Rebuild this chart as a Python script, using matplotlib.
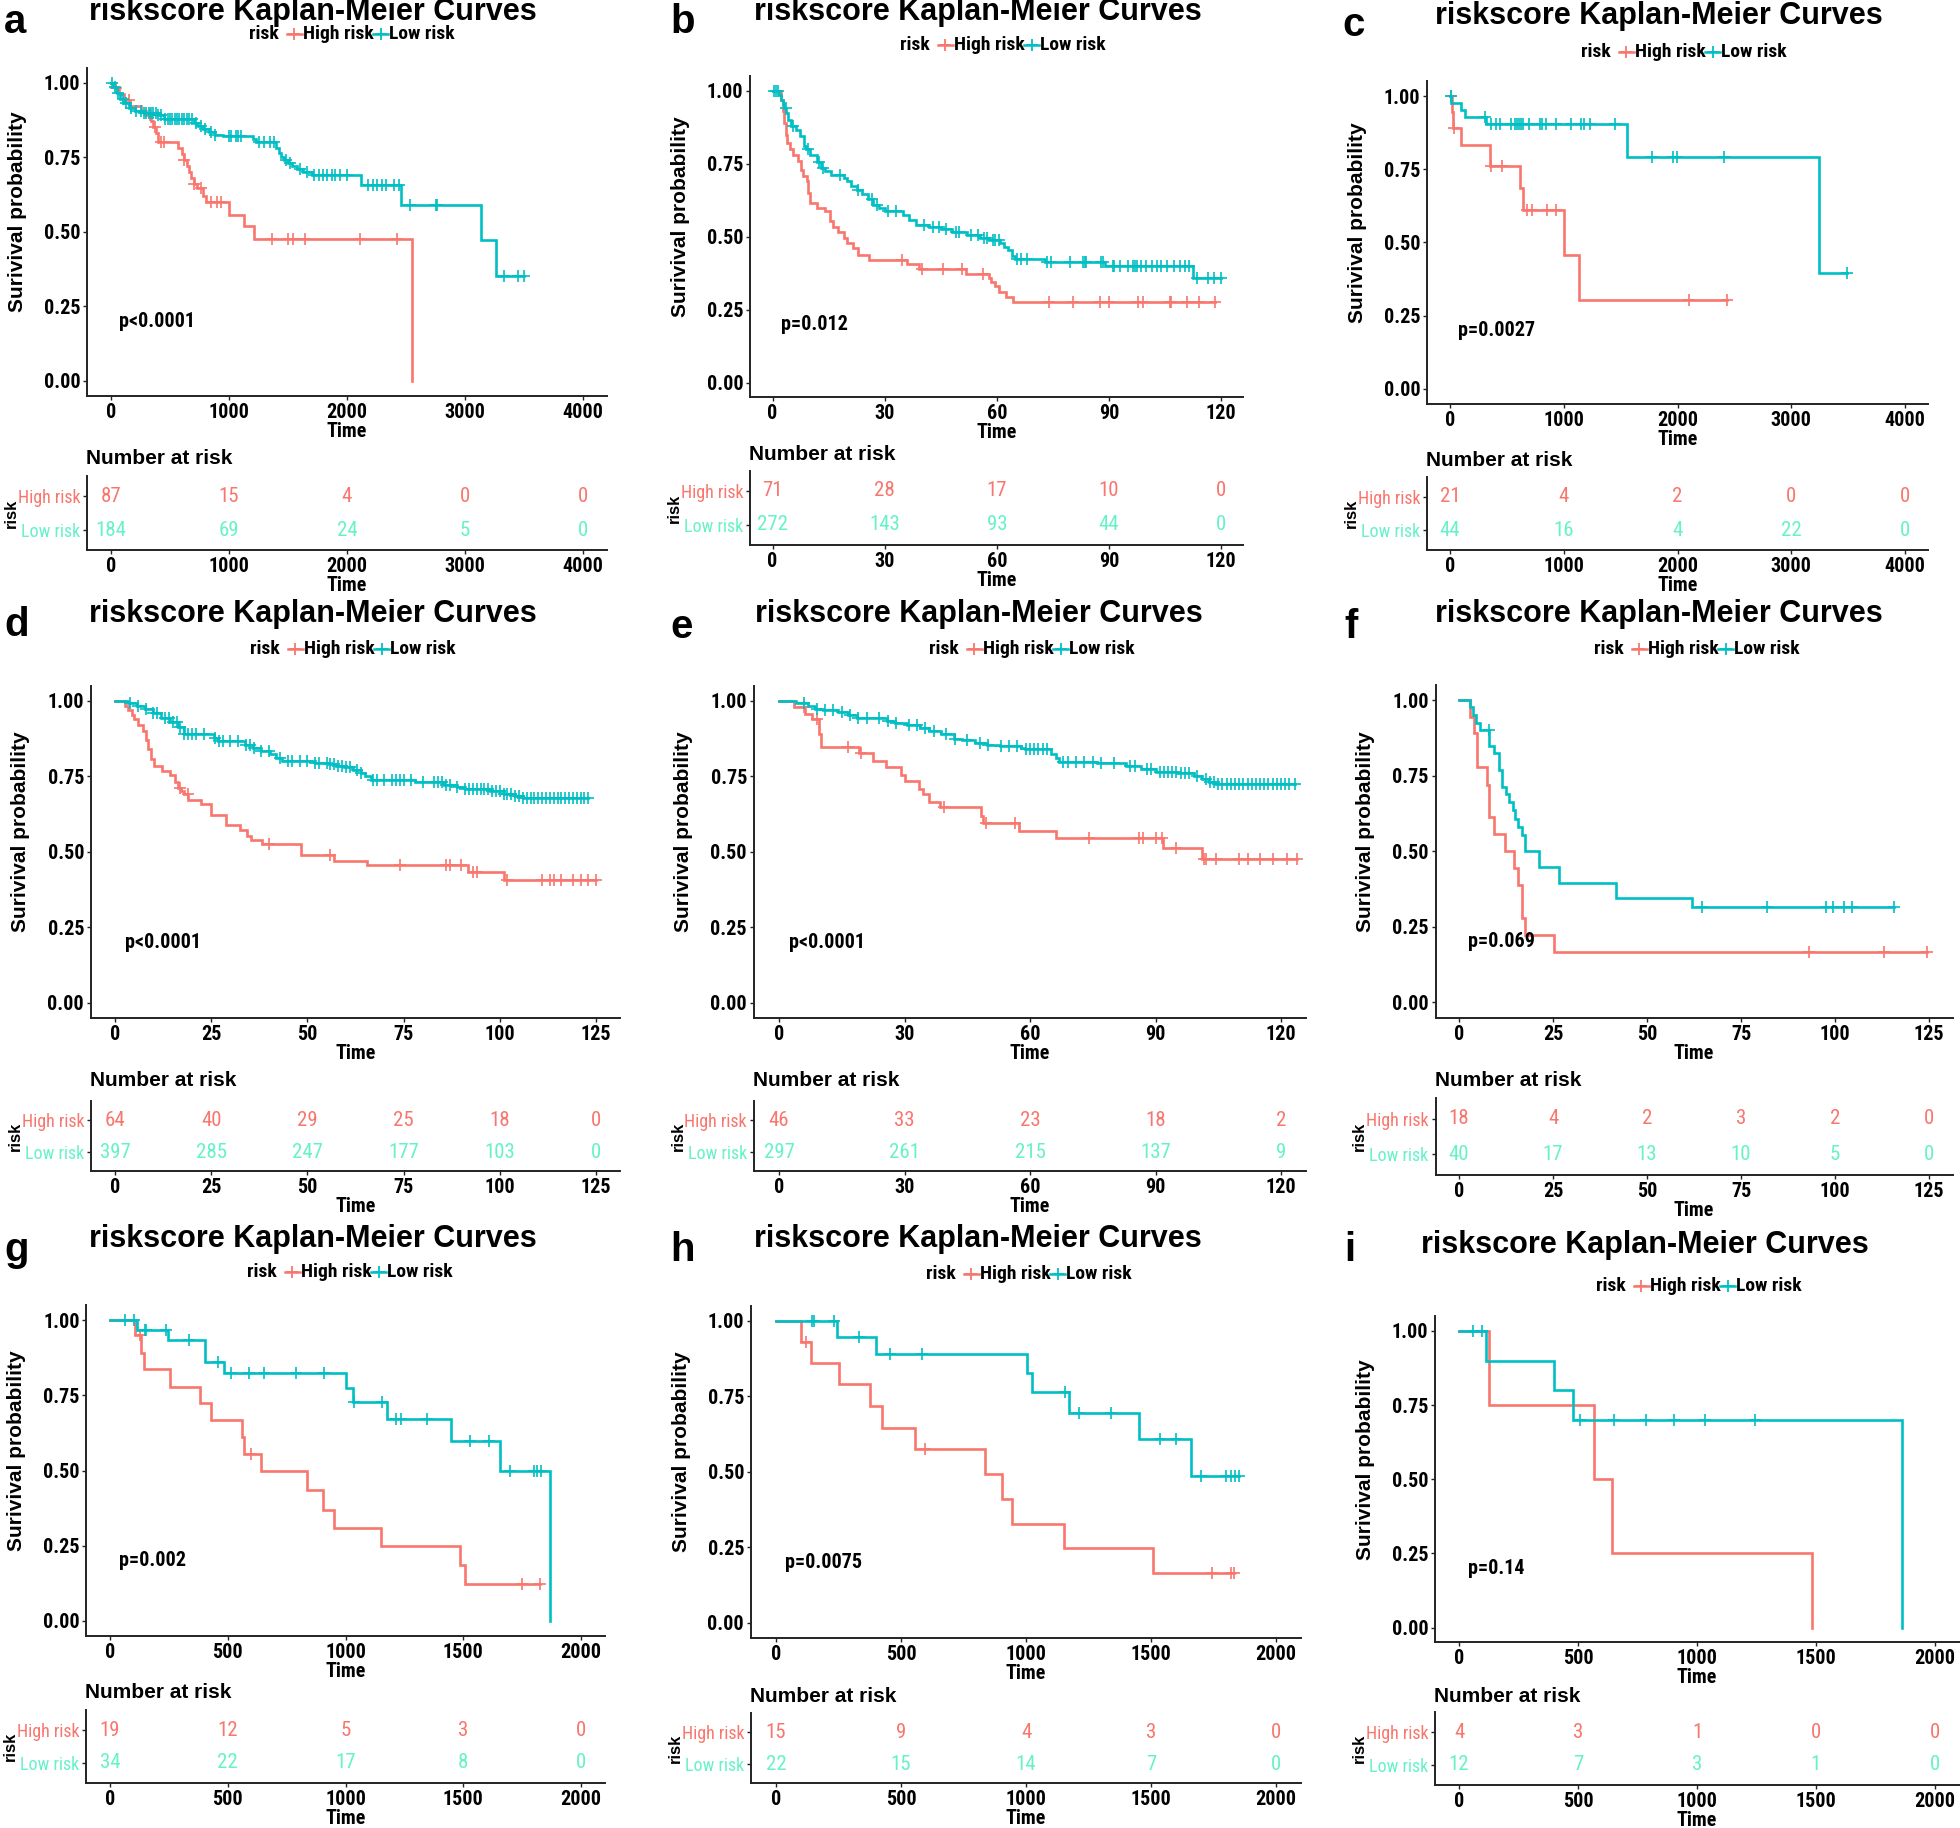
import numpy as np
import matplotlib
matplotlib.use('Agg')
import matplotlib.pyplot as plt
from matplotlib import font_manager as fm
from matplotlib.font_manager import FontProperties
from matplotlib.lines import Line2D

W, H = 1960, 1828
WIDE = 'Liberation Sans'
plt.rcParams['font.family'] = [WIDE, 'DejaVu Sans']

RED = '#F8766D'
CYAN = '#00BFC4'
MINT = '#66F2C8'

TITLE = 'riskscore Kaplan-Meier Curves'
YLABEL = 'Surivival probability'

# ---------------- data ----------------
# panel a
A_TICKS = [0, 1000, 2000, 3000, 4000]
A_HI_T = [30, 70, 110, 160, 250, 300, 340, 360, 380, 400, 570, 600, 620, 640, 660, 680, 700, 725, 780, 805, 1000, 1125, 1213, 2553]
A_HI_S = [0.98, 0.96, 0.94, 0.92, 0.905, 0.89, 0.87, 0.85, 0.83, 0.80, 0.78, 0.76, 0.74, 0.72, 0.70, 0.68, 0.66, 0.645, 0.62, 0.60, 0.555, 0.52, 0.475, 0.0]
A_HI_C = [40, 150, 330, 370, 420, 450, 620, 700, 760, 850, 900, 930, 1365, 1500, 1540, 1640, 2110, 2420]
A_LO_T = [20, 50, 80, 110, 150, 200, 280, 400, 450, 700, 740, 780, 830, 880, 950, 1200, 1230, 1400, 1420, 1440, 1470, 1500, 1530, 1580, 1630, 1700, 2117, 2461, 3135, 3262]
A_LO_S = [0.985, 0.965, 0.945, 0.93, 0.915, 0.905, 0.898, 0.89, 0.878, 0.865, 0.855, 0.845, 0.835, 0.825, 0.82, 0.81, 0.80, 0.78, 0.765, 0.75, 0.74, 0.73, 0.72, 0.71, 0.70, 0.69, 0.655, 0.59, 0.472, 0.352]
A_LO_C = [10, 30, 60, 100, 130, 170, 210, 250, 280, 300, 320, 340, 360, 380, 400, 420, 460, 480, 500, 520, 540, 560, 580, 600, 620, 640, 660, 690, 720, 760, 800, 850, 880, 1000, 1020, 1060, 1080, 1100, 1250, 1300, 1350, 1380, 1480, 1520, 1600, 1660, 1720, 1760, 1800, 1830, 1870, 1900, 1940, 2000, 2180, 2220, 2250, 2300, 2330, 2400, 2440, 2530, 2750, 2760, 3330, 3450, 3500]
A_RISK_HI = [87, 15, 4, 0, 0]
A_RISK_LO = [184, 69, 24, 5, 0]
A_P = 'p<0.0001'

# panel b
B_TICKS = [0, 30, 60, 90, 120]
B_HI_T = [2.2, 2.8, 3.2, 3.6, 4.0, 4.8, 5.6, 6.7, 7.6, 8.1, 9.2, 9.6, 9.9, 11.8, 14.0, 15.5, 16.3, 17.4, 19.0, 20.0, 21.5, 23.0, 25.8, 36.0, 39.3, 51.7, 57.9, 58.4, 59.6, 60.7, 62.4, 64.3]
B_HI_S = [0.97, 0.93, 0.89, 0.85, 0.82, 0.80, 0.78, 0.76, 0.73, 0.71, 0.69, 0.65, 0.615, 0.60, 0.59, 0.555, 0.535, 0.515, 0.497, 0.48, 0.463, 0.437, 0.42, 0.405, 0.39, 0.373, 0.36, 0.345, 0.33, 0.31, 0.293, 0.275]
B_HI_C = [34.6, 40.0, 45.7, 50.6, 56.2, 74, 80.3, 87.6, 89.9, 97.8, 99, 106.4, 106.7, 111, 114, 118.5]
B_LO_T = [1.7, 2.2, 2.7, 3.2, 3.7, 4.2, 5.0, 6.2, 7.3, 8.4, 9.0, 10.1, 11.8, 12.9, 14.0, 15.7, 19.1, 20.0, 21.0, 22.5, 24.0, 25.5, 27.0, 28.5, 30.0, 35.0, 36.5, 38.5, 42.0, 45.0, 48.0, 52.0, 55.5, 58.0, 61.0, 62.0, 63.0, 64.0, 65.0, 72.8, 89.0, 112.5]
B_LO_S = [0.985, 0.97, 0.955, 0.94, 0.925, 0.90, 0.88, 0.865, 0.845, 0.81, 0.80, 0.78, 0.755, 0.735, 0.725, 0.713, 0.70, 0.69, 0.675, 0.66, 0.645, 0.63, 0.61, 0.60, 0.588, 0.575, 0.556, 0.542, 0.535, 0.525, 0.515, 0.506, 0.496, 0.488, 0.478, 0.466, 0.455, 0.435, 0.424, 0.413, 0.40, 0.357]
B_LO_C = [0.5, 1.0, 1.5, 3.5, 5.5, 9.5, 12.5, 13.5, 18.0, 23.0, 26.5, 28.0, 31.0, 33.0, 40.5, 43.0, 44.5, 46.5, 49.0, 50.0, 53.0, 55.0, 56.5, 57.5, 59.0, 59.5, 60.5, 65.5, 66.5, 68.0, 73.5, 74.5, 79.5, 83.0, 83.5, 84.0, 88.0, 88.5, 91.0, 91.5, 93.0, 95.0, 96.5, 97.0, 97.5, 98.5, 100.0, 101.5, 103.0, 104.0, 105.5, 107.5, 109.0, 110.5, 111.5, 113.5, 116.5, 118.0, 120.0]
B_RISK_HI = [71, 28, 17, 10, 0]
B_RISK_LO = [272, 143, 93, 44, 0]
B_P = 'p=0.012'

# panel c
C_TICKS = [0, 1000, 2000, 3000, 4000]
C_HI_T = [18, 30, 99, 349, 613, 642, 1002, 1130]
C_HI_S = [0.945, 0.89, 0.832, 0.762, 0.686, 0.611, 0.459, 0.305]
C_HI_C = [5, 33, 360, 460, 680, 720, 850, 930, 2100, 2433]
C_LO_T = [11, 99, 128, 319, 1560, 3248]
C_LO_S = [0.976, 0.951, 0.93, 0.906, 0.793, 0.397]
C_LO_C = [5, 310, 360, 404, 440, 532, 569, 587, 606, 624, 642, 697, 789, 807, 844, 936, 1064, 1156, 1174, 1229, 1450, 1772, 1963, 1993, 2411, 3486]
C_RISK_HI = [21, 4, 2, 0, 0]
C_RISK_LO = [44, 16, 4, 22, 0]
C_P = 'p=0.0027'

# panel d
D_TICKS = [0, 25, 50, 75, 100, 125]
D_HI_T = [2.5, 3.5, 4.3, 5.0, 6.0, 7.2, 8.0, 8.6, 9.4, 10.2, 12.1, 14.3, 15.5, 16.4, 17.2, 18.0, 19.1, 22.4, 25.0, 28.8, 32.6, 34.2, 35.3, 38.2, 48.3, 56.9, 65.6, 91.7, 101.2]
D_HI_S = [0.985, 0.97, 0.955, 0.94, 0.92, 0.90, 0.87, 0.84, 0.807, 0.784, 0.768, 0.755, 0.73, 0.71, 0.70, 0.69, 0.67, 0.657, 0.622, 0.59, 0.573, 0.552, 0.54, 0.525, 0.49, 0.47, 0.455, 0.432, 0.406]
D_HI_C = [17, 19, 40, 56, 74, 86, 87, 90, 93, 94, 102, 111, 113, 114, 116, 119, 121, 123, 125]
D_LO_T = [3.5, 5.6, 7.8, 10.0, 12.0, 14.3, 16.4, 18.0, 25.6, 26.8, 33.7, 35.9, 38.0, 40.2, 41.8, 43.4, 52.0, 55.3, 57.5, 59.6, 61.8, 63.9, 65.0, 66.6, 78.0, 85.5, 88.8, 91.0, 97.4, 101.0, 104.0, 106.0]
D_LO_S = [0.995, 0.985, 0.975, 0.96, 0.945, 0.93, 0.915, 0.892, 0.877, 0.866, 0.855, 0.845, 0.835, 0.825, 0.81, 0.80, 0.795, 0.79, 0.785, 0.78, 0.77, 0.76, 0.75, 0.738, 0.73, 0.72, 0.715, 0.707, 0.70, 0.69, 0.685, 0.677]
D_LO_C = [4, 6, 8, 10, 11, 13, 14, 15, 16, 17, 18, 19, 20, 21, 23, 26, 27, 28, 30, 32, 34, 35, 36, 38, 40, 43, 45, 46, 48, 50, 52, 53, 55, 56, 57, 58, 59, 60, 61, 63, 64, 67, 68, 70, 72, 73, 74, 75, 77, 80, 83, 84, 85, 86, 87, 89, 91, 92, 93, 94, 95, 96, 97, 98, 99, 100, 101, 102, 103, 104, 105, 106, 107, 108, 109, 110, 111, 112, 113, 114, 115, 116, 117, 118, 119, 120, 121, 122, 123]
D_RISK_HI = [64, 40, 29, 25, 18, 0]
D_RISK_LO = [397, 285, 247, 177, 103, 0]
D_P = 'p<0.0001'

# panel e
E_TICKS = [0, 30, 60, 90, 120]
E_HI_T = [3.5, 6.3, 8.0, 9.6, 10.1, 19.1, 22.5, 25.5, 29.2, 30.0, 33.4, 34.5, 35.8, 38.6, 48.3, 48.8, 57.4, 66.2, 91.9, 101.2]
E_HI_S = [0.98, 0.957, 0.94, 0.89, 0.847, 0.827, 0.80, 0.78, 0.756, 0.734, 0.708, 0.69, 0.666, 0.647, 0.617, 0.595, 0.57, 0.545, 0.513, 0.475]
E_HI_C = [6, 9, 16.5, 19.5, 39.5, 49.5, 56.5, 74, 86, 87, 90, 91.5, 95, 101.5, 102, 104.5, 110, 112, 115, 118, 121.5, 123.9]
E_LO_T = [4, 7, 8.5, 10.5, 14, 16.6, 18.6, 25.7, 27.7, 30.7, 33.7, 35.8, 38.8, 41.8, 43.8, 46.8, 49.8, 52.9, 57.9, 58.9, 65, 66.2, 67, 76, 83, 86.6, 90.2, 95.2, 99.2, 101.2, 102.8, 104.3]
E_LO_S = [0.995, 0.985, 0.975, 0.97, 0.965, 0.955, 0.944, 0.935, 0.928, 0.92, 0.91, 0.90, 0.89, 0.875, 0.87, 0.86, 0.855, 0.85, 0.845, 0.84, 0.825, 0.81, 0.798, 0.795, 0.785, 0.775, 0.766, 0.76, 0.75, 0.74, 0.73, 0.725]
E_LO_C = [6, 9, 11, 13, 15, 17, 19, 21, 24, 26, 28, 31, 33, 35, 37, 40, 42, 45, 48, 50, 53, 55, 57, 59, 60, 61, 62, 63, 64, 68, 69, 71, 73, 75, 77, 80, 84, 85, 88, 89, 91, 92, 93, 94, 95, 96, 97, 98, 100, 102, 103, 104, 105, 106, 107, 108, 109, 110, 111, 112, 113, 114, 115, 116, 117, 118, 119, 120, 121, 122, 123.4]
E_RISK_HI = [46, 33, 23, 18, 2]
E_RISK_LO = [297, 261, 215, 137, 9]
E_P = 'p<0.0001'

# panel f
F_TICKS = [0, 25, 50, 75, 100, 125]
F_HI_T = [3.0, 4.0, 4.8, 7.4, 8.1, 9.2, 12.3, 14.5, 15.6, 16.7, 17.6, 25.2]
F_HI_S = [0.945, 0.89, 0.78, 0.72, 0.613, 0.556, 0.50, 0.445, 0.39, 0.278, 0.223, 0.166]
F_HI_C = [93, 113, 124.4]
F_LO_T = [3.0, 3.7, 4.6, 5.7, 8.1, 9.2, 10.7, 11.4, 12.5, 13.4, 14.3, 14.8, 15.6, 16.7, 17.6, 21.3, 26.6, 41.8, 62.0]
F_LO_S = [0.977, 0.95, 0.925, 0.90, 0.847, 0.825, 0.77, 0.714, 0.69, 0.663, 0.636, 0.607, 0.58, 0.553, 0.50, 0.447, 0.396, 0.344, 0.316]
F_LO_C = [8.0, 64.5, 82, 97.5, 99.5, 102.5, 104.5, 115.6]
F_RISK_HI = [18, 4, 2, 3, 2, 0]
F_RISK_LO = [40, 17, 13, 10, 5, 0]
F_P = 'p=0.069'

# panel g
G_TICKS = [0, 500, 1000, 1500, 2000]
G_HI_T = [106, 132, 145, 256, 382, 428, 559, 569, 640, 837, 904, 952, 1151, 1486, 1507]
G_HI_S = [0.951, 0.89, 0.836, 0.778, 0.723, 0.667, 0.61, 0.555, 0.50, 0.435, 0.37, 0.31, 0.25, 0.187, 0.123]
G_HI_C = [128, 600, 1749, 1824]
G_LO_T = [115, 247, 402, 485, 1004, 1031, 1175, 1450, 1656, 1868]
G_LO_S = [0.968, 0.933, 0.86, 0.823, 0.774, 0.729, 0.67, 0.597, 0.497, 0.0]
G_LO_C = [65, 100, 147, 153, 237, 335, 458, 515, 590, 655, 790, 908, 1035, 1155, 1215, 1235, 1345, 1530, 1610, 1700, 1800, 1815, 1830]
G_RISK_HI = [19, 12, 5, 3, 0]
G_RISK_LO = [34, 22, 17, 8, 0]
G_P = 'p=0.002'

# panel h
H_TICKS = [0, 500, 1000, 1500, 2000]
H_HI_T = [101, 138, 252, 376, 424, 555, 835, 903, 945, 1150, 1508]
H_HI_S = [0.932, 0.861, 0.79, 0.717, 0.646, 0.574, 0.492, 0.411, 0.327, 0.246, 0.165]
H_HI_C = [118, 595, 1745, 1820, 1832]
H_LO_T = [242, 398, 1003, 1025, 1171, 1452, 1659]
H_LO_S = [0.947, 0.89, 0.829, 0.765, 0.694, 0.607, 0.486]
H_LO_C = [145, 150, 230, 330, 455, 585, 1155, 1210, 1340, 1535, 1600, 1700, 1800, 1818, 1835, 1850]
H_RISK_HI = [15, 9, 4, 3, 0]
H_RISK_LO = [22, 15, 14, 7, 0]
H_P = 'p=0.0075'

# panel i
I_TICKS = [0, 500, 1000, 1500, 2000]
I_HI_T = [128, 568, 641, 1484]
I_HI_S = [0.75, 0.50, 0.25, 0.0]
I_HI_C = []
I_LO_T = [113, 399, 477, 1861]
I_LO_S = [0.90, 0.80, 0.70, 0.0]
I_LO_C = [60, 95, 510, 650, 785, 905, 1035, 1245]
I_RISK_HI = [4, 3, 1, 0, 0]
I_RISK_LO = [12, 7, 3, 1, 0]
I_P = 'p=0.14'

# ---------------- layout (pixels) ----------------
PANELS = [
    dict(tag='a', ticks=A_TICKS, hi=(A_HI_T, A_HI_S, A_HI_C), lo=(A_LO_T, A_LO_S, A_LO_C), rhi=A_RISK_HI, rlo=A_RISK_LO, p=A_P,
         x0=111, x1=583, y1=82.5, y0=381, hy=496, ly=530, title=(313, 12), leg=(352, 34), let=(4, 22), nar=459),
    dict(tag='b', ticks=B_TICKS, hi=(B_HI_T, B_HI_S, B_HI_C), lo=(B_LO_T, B_LO_S, B_LO_C), rhi=B_RISK_HI, rlo=B_RISK_LO, p=B_P,
         x0=772.5, x1=1221, y1=91, y0=382.5, hy=491, ly=525, title=(978, 12), leg=(1003, 45), let=(670, 22), nar=454),
    dict(tag='c', ticks=C_TICKS, hi=(C_HI_T, C_HI_S, C_HI_C), lo=(C_LO_T, C_LO_S, C_LO_C), rhi=C_RISK_HI, rlo=C_RISK_LO, p=C_P,
         x0=1450, x1=1905, y1=96, y0=389, hy=497, ly=530, title=(1659, 16), leg=(1684, 52), let=(1342, 25), nar=460),
    dict(tag='d', ticks=D_TICKS, hi=(D_HI_T, D_HI_S, D_HI_C), lo=(D_LO_T, D_LO_S, D_LO_C), rhi=D_RISK_HI, rlo=D_RISK_LO, p=D_P,
         x0=115, x1=596, y1=701, y0=1002.5, hy=1120, ly=1152, title=(313, 614), leg=(353, 649), let=(4, 625), nar=1080),
    dict(tag='e', ticks=E_TICKS, hi=(E_HI_T, E_HI_S, E_HI_C), lo=(E_LO_T, E_LO_S, E_LO_C), rhi=E_RISK_HI, rlo=E_RISK_LO, p=E_P,
         x0=779, x1=1281, y1=701, y0=1002.5, hy=1120, ly=1152, title=(979, 614), leg=(1032, 649), let=(670, 627), nar=1080),
    dict(tag='f', ticks=F_TICKS, hi=(F_HI_T, F_HI_S, F_HI_C), lo=(F_LO_T, F_LO_S, F_LO_C), rhi=F_RISK_HI, rlo=F_RISK_LO, p=F_P,
         x0=1459, x1=1929, y1=700, y0=1002.5, hy=1119, ly=1154, title=(1659, 614), leg=(1697, 649), let=(1344, 627), nar=1080),
    dict(tag='g', ticks=G_TICKS, hi=(G_HI_T, G_HI_S, G_HI_C), lo=(G_LO_T, G_LO_S, G_LO_C), rhi=G_RISK_HI, rlo=G_RISK_LO, p=G_P,
         x0=110, x1=581, y1=1320, y0=1621, hy=1730, ly=1763, title=(313, 1239), leg=(350, 1272), let=(4, 1250), nar=1692),
    dict(tag='h', ticks=H_TICKS, hi=(H_HI_T, H_HI_S, H_HI_C), lo=(H_LO_T, H_LO_S, H_LO_C), rhi=H_RISK_HI, rlo=H_RISK_LO, p=H_P,
         x0=776, x1=1276, y1=1321, y0=1622.5, hy=1732, ly=1764, title=(978, 1239), leg=(1029, 1274), let=(670, 1250), nar=1696),
    dict(tag='i', ticks=I_TICKS, hi=(I_HI_T, I_HI_S, I_HI_C), lo=(I_LO_T, I_LO_S, I_LO_C), rhi=I_RISK_HI, rlo=I_RISK_LO, p=I_P,
         x0=1459, x1=1935, y1=1331, y0=1627.5, hy=1732, ly=1765, title=(1645, 1245), leg=(1699, 1286), let=(1344, 1250), nar=1697),
]


# ---------------- condensed font lookup ----------------
def _wnum(w):
    if isinstance(w, (int, float)):
        return int(w)
    return {'bold': 700, 'normal': 400, 'regular': 400, 'medium': 500,
            'semibold': 600, 'light': 300, 'black': 900, 'heavy': 800}.get(str(w).lower(), 400)


_PREF = ['Liberation Sans Narrow', 'Arial Narrow', 'Roboto Condensed', 'DejaVu Sans Condensed',
         'DejaVu Sans', 'Open Sans Condensed', 'Open Sans', 'Noto Sans', 'Roboto']


def find_cond(target):
    best = None
    for f in fm.fontManager.ttflist:
        nm = f.name
        low = (nm + ' ' + f.fname).lower()
        if any(k in low for k in ('mono', 'serif', 'cjk', 'italic', 'oblique')):
            continue
        if f.style != 'normal':
            continue
        st = f.stretch
        cond = ('narrow' in low or 'condensed' in low or 'cond' in f.fname.lower()
                or st in ('condensed', 'semi-condensed', 'extra-condensed', 'ultra-condensed')
                or (isinstance(st, (int, float)) and st < 500))
        if not cond or 'extra' in low or 'ultra' in low:
            continue
        base = nm.replace(' Condensed', '').replace(' Narrow', '')
        pref = len(_PREF)
        for i, p in enumerate(_PREF):
            if nm == p or base == p.replace(' Condensed', '').replace(' Narrow', ''):
                pref = i
                break
        score = abs(_wnum(f.weight) - target) / 100.0 * 3 + pref
        if best is None or score < best[0]:
            best = (score, f.fname)
    return best[1] if best else None


COND_BOLD = find_cond(700)
COND_REG = find_cond(400)


def cfont(size, bold=True):
    path = COND_BOLD if bold else COND_REG
    if path:
        return FontProperties(fname=path, size=size)
    return FontProperties(family=WIDE, weight='bold' if bold else 'normal', size=size * 0.88)


fig = plt.figure(figsize=(W / 100, H / 100), dpi=100)
fig.patch.set_facecolor('white')
renderer = fig.canvas.get_renderer()


def fx(x):
    return x / W


def fy(y):
    return 1 - y / H


def px_axes(l, t, r, b):
    return fig.add_axes([l / W, 1 - b / H, (r - l) / W, (b - t) / H])


def style(ax):
    for s in ('top', 'right'):
        ax.spines[s].set_visible(False)
    for s in ('left', 'bottom'):
        ax.spines[s].set_color('#222222')
        ax.spines[s].set_linewidth(1.4)
    ax.tick_params(direction='out', length=3, width=1.0, color='#222222', pad=2)


def km(ax, T, S, C, color):
    T = np.asarray(T, float)
    S = np.asarray(S, float)
    C = np.asarray(C, float)
    end = max(T.max(), C.max() if C.size else 0)
    xs = np.concatenate([[0], T, [end]])
    ys = np.concatenate([[1], S, [S[-1]]])
    ax.plot(xs, ys, drawstyle='steps-post', color=color, lw=1.9, solid_joinstyle='miter')
    if C.size:
        k = np.searchsorted(T, C, side='right')
        sv = np.where(k == 0, 1.0, S[np.maximum(k - 1, 0)])
        ax.plot(C, sv, ls='none', marker='+', ms=8, mew=1.2, color=color)
    return end


TICK_SIZE = 14.5

for P in PANELS:
    ticks = P['ticks']
    xmax = ticks[-1]
    span = P['x1'] - P['x0']
    yspan = P['y0'] - P['y1']
    l = P['x0'] - 0.05 * span
    r = P['x1'] + 0.05 * span
    ax = px_axes(l, P['y1'] - 0.05 * yspan, r, P['y0'] + 0.05 * yspan)
    style(ax)
    ax.set_xlim(-0.05 * xmax, 1.05 * xmax)
    ax.set_ylim(-0.05, 1.05)
    e1 = km(ax, *P['hi'], RED)
    e2 = km(ax, *P['lo'], CYAN)
    ax.set_xticks(ticks)
    ax.set_xticklabels([str(t) for t in ticks], fontproperties=cfont(TICK_SIZE))
    yt = [0, 0.25, 0.5, 0.75, 1.0]
    ax.set_yticks(yt)
    ax.set_yticklabels(['%.2f' % v for v in yt], fontproperties=cfont(TICK_SIZE))
    ax.set_xlabel('Time', fontproperties=cfont(TICK_SIZE), labelpad=0)
    fig.text(fx(l - 70), fy((P['y0'] + P['y1']) / 2 - 20), YLABEL, rotation=90,
             ha='center', va='center', fontsize=15, fontweight='bold', family=WIDE)
    ax.text(max(e1, e2) / 50, 0.2, P['p'], ha='left', va='center', fontproperties=cfont(TICK_SIZE))

    # title and panel letter
    fig.text(fx(P['title'][0]), fy(P['title'][1]), TITLE, ha='center', va='center',
             fontsize=22, fontweight='bold', family=WIDE)
    fig.text(fx(P['let'][0]), fy(P['let'][1]), P['tag'], ha='left', va='center',
             fontsize=29, fontweight='bold', family=WIDE)

    # legend (manual, horizontal)
    lx, lyy = P['leg']
    lf = cfont(14)
    t_risk = fig.text(0, fy(lyy), 'risk', ha='left', va='center', fontproperties=lf)
    t_hi = fig.text(0, fy(lyy), 'High risk', ha='left', va='center', fontproperties=lf)
    t_lo = fig.text(0, fy(lyy), 'Low risk', ha='left', va='center', fontproperties=lf)
    wr = t_risk.get_window_extent(renderer).width
    wh = t_hi.get_window_extent(renderer).width
    wl = t_lo.get_window_extent(renderer).width
    key = 15
    gap = 8
    total = wr + gap + key + wh + key + wl + 2
    x = lx - total / 2
    t_risk.set_x(fx(x))
    x += wr + gap
    for col, txt, w in ((RED, t_hi, wh), (CYAN, t_lo, wl)):
        fig.add_artist(Line2D([fx(x), fx(x + key)], [fy(lyy), fy(lyy)], color=col, lw=1.8,
                              transform=fig.transFigure))
        fig.add_artist(Line2D([fx(x + key / 2)], [fy(lyy)], color=col, marker='+', ms=9, mew=1.3,
                              ls='none', transform=fig.transFigure))
        x += key + 1
        txt.set_x(fx(x))
        x += w

    # risk table
    d = P['ly'] - P['hy']
    tax = px_axes(l, P['hy'] - 0.6 * d, r, P['ly'] + 0.6 * d)
    style(tax)
    tax.set_xlim(-0.05 * xmax, 1.05 * xmax)
    tax.set_ylim(0.4, 2.6)
    tax.set_xticks(ticks)
    tax.set_xticklabels([str(t) for t in ticks], fontproperties=cfont(TICK_SIZE))
    tax.set_xlabel('Time', fontproperties=cfont(TICK_SIZE), labelpad=0)
    tax.set_yticks([2, 1])
    tax.set_yticklabels(['High risk', 'Low risk'], fontproperties=cfont(13, bold=False))
    tl = tax.get_yticklabels()
    tl[0].set_color(RED)
    tl[1].set_color(MINT)
    for tk, n in zip(ticks, P['rhi']):
        tax.text(tk, 2, str(n), ha='center', va='center', color=RED, fontproperties=cfont(15, bold=False))
    for tk, n in zip(ticks, P['rlo']):
        tax.text(tk, 1, str(n), ha='center', va='center', color=MINT, fontproperties=cfont(15, bold=False))
    fig.text(fx(l - 76), fy((P['hy'] + P['ly']) / 2), 'risk', rotation=90, ha='center', va='center',
             fontsize=12, fontweight='bold', family=WIDE)
    fig.text(fx(l - 1), fy(P['nar']), 'Number at risk', ha='left', va='center', fontsize=15,
             fontweight='bold', family=WIDE)

fig.savefig('out.png', dpi=100, facecolor='white')
